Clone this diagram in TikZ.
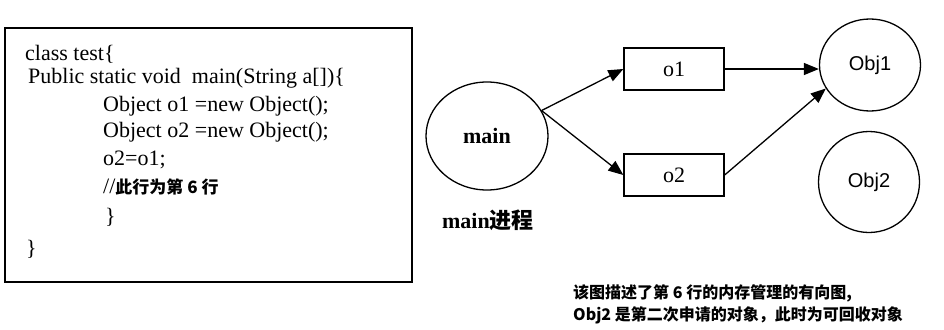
\documentclass[tikz,border=0pt]{standalone}
\usepackage{fontspec}
\setmainfont{Liberation Serif}
\newfontfamily\zhfont{Noto Sans CJK SC}
\newfontfamily\labelfont{Liberation Sans}
\usetikzlibrary{arrows.meta, shapes.geometric}

\begin{document}
\begin{tikzpicture}[
    x=1pt, y=-1pt,
    >={Triangle[length=15pt, width=12pt]},
    codeline/.style={anchor=west, inner sep=0pt,
                     font=\fontsize{22}{26}\selectfont},
    ref/.style={draw, line width=1.3pt, minimum width=100pt,
                minimum height=42pt, inner sep=0pt,
                font=\fontsize{22}{26}\selectfont},
    obj/.style={draw, ellipse, line width=1.3pt, minimum width=101pt,
                inner sep=0pt, font=\labelfont\fontsize{20}{24}\selectfont},
    link/.style={->, line width=1.3pt},
    zhnote/.style={anchor=west, inner sep=0pt,
                   font=\zhfont\bfseries\fontsize{16}{22}\selectfont}
]
\useasboundingbox (0,0) rectangle (944,329);

% ---- code box ----
\node[draw, line width=1.5pt, minimum width=407pt, minimum height=254pt,
      inner sep=0pt] (codebox) at (208.5,155) {};
\node[codeline] (c1) at (25,54)  {class test\{};
\node[codeline] (c2) at (28,78)  {Public static void\ \ main(String a[])\{};
\node[codeline] (c3) at (103,106) {Object\ o1 =new Object();};
\node[codeline] (c4) at (103,132) {Object\ o2 =new Object();};
\node[codeline] (c5) at (103,160) {o2=o1;};
\node[codeline] (c6) at (103,187)
     {//{\zhfont\bfseries\fontsize{17}{20}\selectfont 此行为第 6 行}};
\node[codeline] (c7) at (105,217) {\}};
\node[codeline] (c8) at (26,249)  {\}};

% ---- reference graph ----
\node[draw, ellipse, line width=1.3pt, minimum width=122pt,
      minimum height=108pt, font=\bfseries\fontsize{22}{26}\selectfont]
     (main) at (487,136) {main\hspace{14pt}};
\node[ref] (o1) at (674,69)  {o1};
\node[ref] (o2) at (674,175) {o2};
\node[obj, minimum height=92pt]  (Obj1) at (870,65)  {Obj1};
\node[obj, minimum height=101pt] (Obj2) at (869,182) {Obj2};

\draw[link] (main.25) -- (o1.west);
\draw[link] (main.25) -- (o2.west);
\draw[link] (o1.east) -- (o1.east -| Obj1.west);
\draw[link] (o2.east) -- (Obj1.208);

% ---- labels ----
\node[anchor=center, inner sep=0pt] (proc) at (488,220)
     {\bfseries\fontsize{22}{26}\selectfont main{\zhfont 进程}};
\node[zhnote] (cap1) at (573,293) {该图描述了第 6 行的内存管理的有向图,};
\node[zhnote] (cap2) at (573,315) {Obj2 是第二次申请的对象，此时为可回收对象};
\end{tikzpicture}
\end{document}
